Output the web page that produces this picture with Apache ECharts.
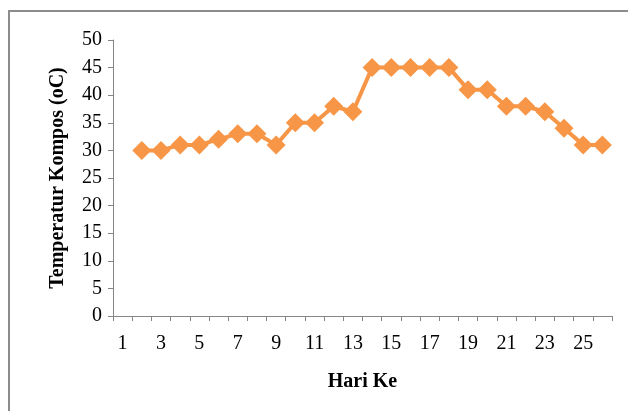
<!DOCTYPE html>
<html><head><meta charset="utf-8">
<script src="https://cdn.jsdelivr.net/npm/echarts@6/dist/echarts.min.js"></script>
<style>html,body{margin:0;padding:0;background:#fff}#c{width:628px;height:411px}</style>
</head><body><div id="c"></div>
<script>
var days = ['1','2','3','4','5','6','7','8','9','10','11','12','13','14','15','16','17','18','19','20','21','22','23','24','25','26'];
var temps = [null,30,30,31,31,32,33,33,31,35,35,38,37,45,45,45,45,45,41,41,38,38,37,34,31,31];
var yMin = 0, yMax = 50, yStep = 5;
var xTitle = 'Hari Ke';
var yTitle = 'Temperatur Kompos (oC)';

var chart = echarts.init(document.getElementById('c'), null, {renderer:'canvas'});
var serif = '"Liberation Serif","Times New Roman",serif';
chart.setOption({
  animation:false,
  graphic:[{type:'rect',shape:{x:9,y:11,width:640,height:420},style:{fill:'none',stroke:'#8c8c8c',lineWidth:2},z:-1}],
  grid:{left:113,top:40,right:16,bottom:95},
  xAxis:{type:'category',data:days,boundaryGap:true,
    name:xTitle,nameLocation:'middle',nameGap:56,
    nameTextStyle:{fontFamily:serif,fontSize:20,fontWeight:'bold',color:'#000'},
    axisLine:{lineStyle:{color:'#868686',width:1}},
    axisTick:{show:true,length:5,interval:0,lineStyle:{color:'#868686'}},
    axisLabel:{interval:1,fontFamily:serif,fontSize:20,color:'#000',margin:18}},
  yAxis:{type:'value',min:yMin,max:yMax,interval:yStep,
    name:yTitle,nameLocation:'middle',nameGap:45,
    nameTextStyle:{fontFamily:serif,fontSize:20,fontWeight:'bold',color:'#000'},
    axisLine:{show:true,lineStyle:{color:'#868686',width:1}},
    axisTick:{show:true,length:5,lineStyle:{color:'#868686'}},
    splitLine:{show:false},
    axisLabel:{fontFamily:serif,fontSize:20,color:'#000',margin:11}},
  series:[{type:'line',data:temps,connectNulls:false,showAllSymbol:true,
    symbol:'diamond',symbolSize:19,
    lineStyle:{color:'#F79646',width:4},
    itemStyle:{color:'#F79646'}}]
});
</script></body></html>
